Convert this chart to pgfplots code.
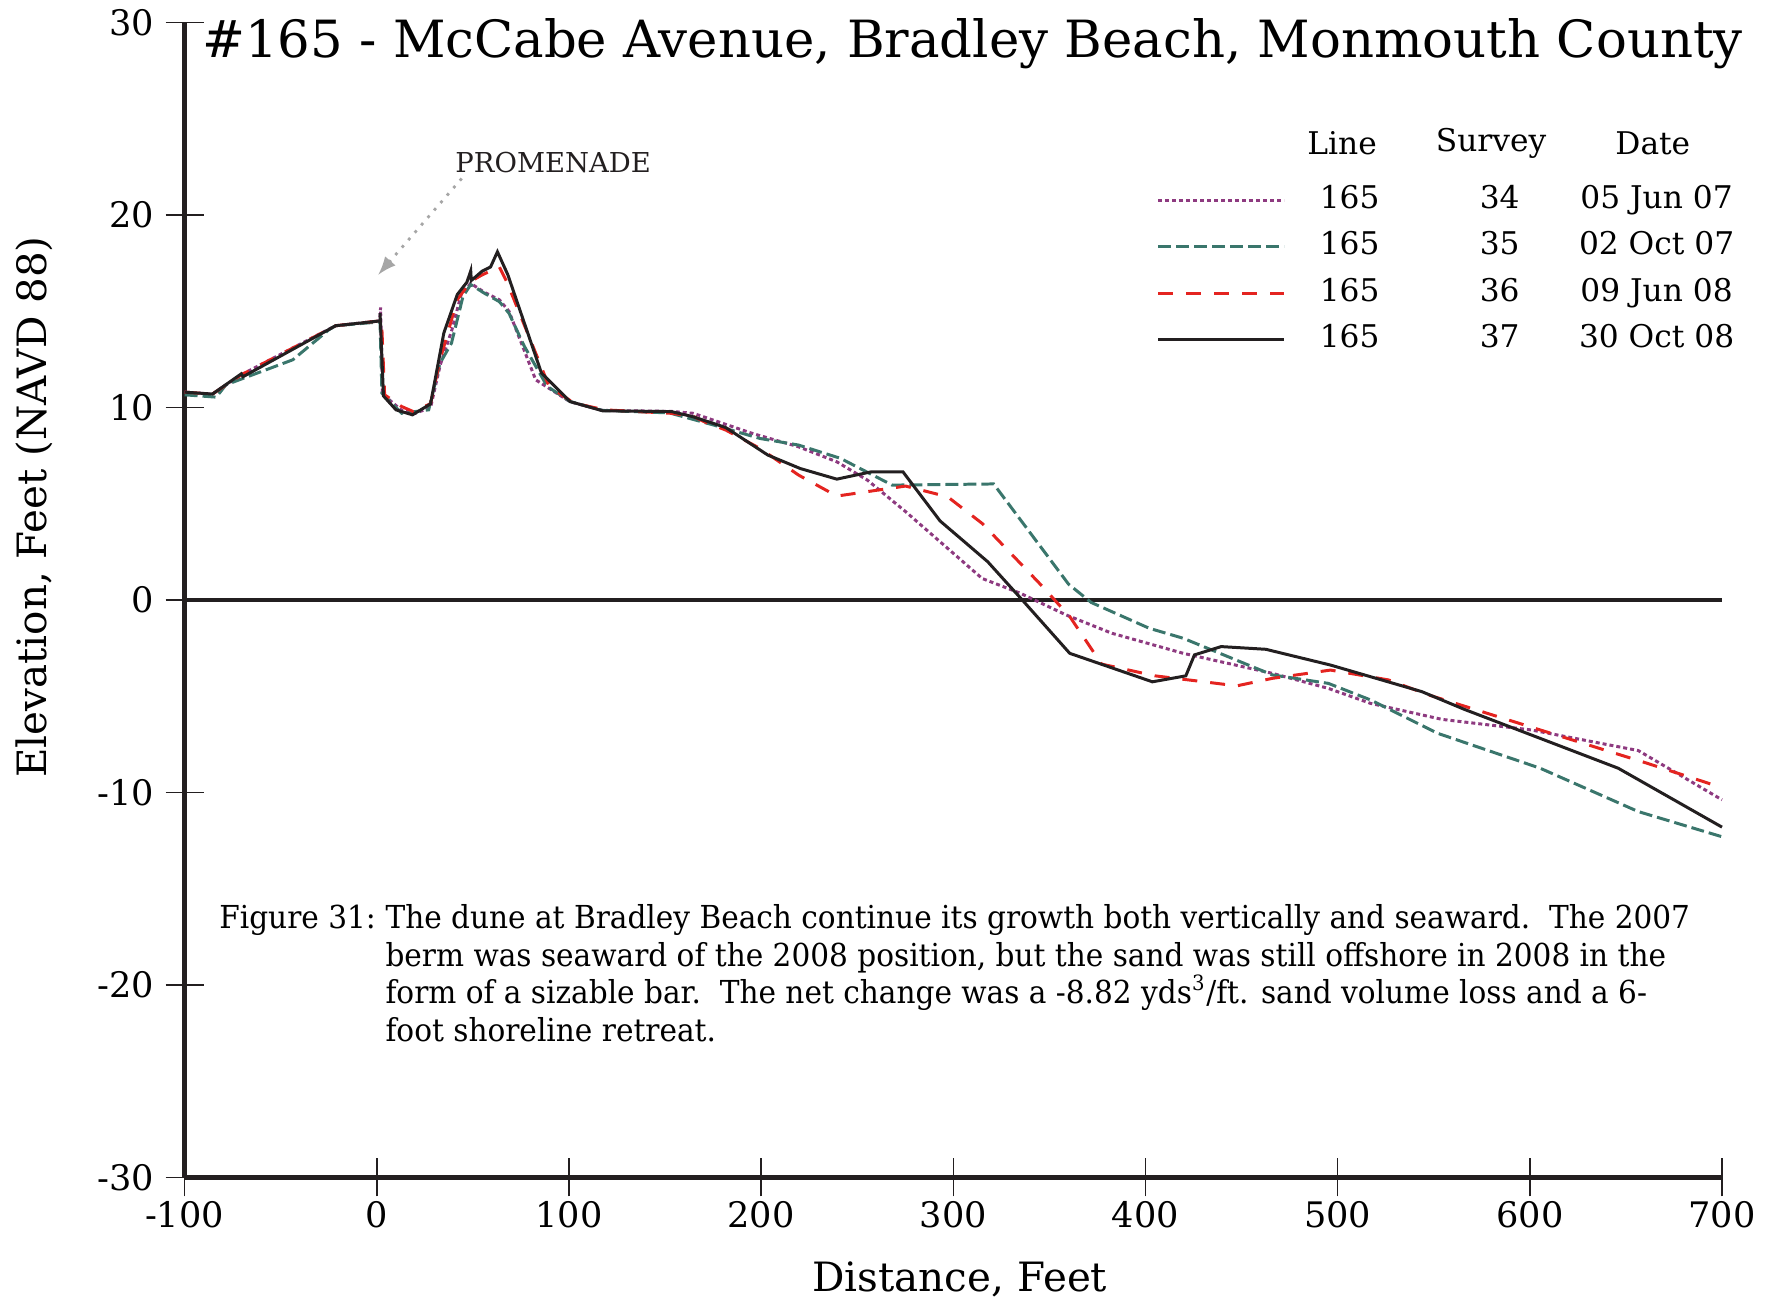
\documentclass[border=0pt]{standalone}
\usepackage{fontspec}
\setmainfont{DejaVu Serif}
\newfontfamily\capfont[FakeStretch=0.935]{DejaVu Serif}
\usepackage{pgfplots}
\pgfplotsset{compat=1.18}
\definecolor{c34}{RGB}{142,58,128}
\definecolor{c35}{RGB}{58,118,108}
\definecolor{c36}{RGB}{228,36,32}
\definecolor{c37}{RGB}{35,31,32}
\begin{document}
\begin{tikzpicture}
\path[use as bounding box] (-1.846cm,-1.23cm) rectangle (15.916cm,11.776cm);
\begin{axis}[
  at={(0,0)}, anchor=south west,
  width=15.376cm, height=11.55cm, scale only axis,
  xmin=-100, xmax=700, ymin=-30, ymax=30,
  axis x line*=bottom, axis y line*=left,
  axis line style={line width=1.4pt, c37},
  xtick={-100,0,100,200,300,400,500,600,700},
  xticklabels={-100,0,100,200,300,400,500,600,700},
  ytick={-30,-20,-10,0,10,20,30},
  yticklabels={-30,-20,-10,0,10,20,30},
  tick align=center, major tick length=3.8mm,
  tick style={c37, line width=0.45pt},
  xticklabel style={font=\fontsize{10}{12}\selectfont, yshift=0.75mm},
  yticklabel style={font=\fontsize{10}{12}\selectfont, xshift=0.1mm},
  clip=false,
  legend cell align=left,
  legend style={draw=none, fill=none, at={(axis cs:400,22.0)}, anchor=north west,
    font=\fontsize{8.9}{10}\selectfont, row sep=1.44mm,
    nodes={inner sep=0pt, text height=2.4mm, text depth=0.8mm}},
  legend image code/.code={\draw[#1] (0cm,0cm) -- (1.26cm,0cm);},
]
\addplot[c37, line width=1.1pt, forget plot] coordinates {(-100,0) (700,0)};

\addplot[c34, line width=0.85pt, dash pattern=on 0.4mm off 0.3mm] coordinates {
(-100,10.8) (-85.5,10.7) (-70.5,11.7) (-21.4,14.25) (1.5,14.5) (2.0,15.2) (3.0,10.7)
(13,9.85) (20,9.7) (28,10.0) (33,12.2) (39,14.0) (44,15.9) (48.9,16.45) (55.8,16.0)
(63.8,15.6) (68.8,15.0) (82.7,11.44) (100.6,10.3) (117.5,9.85) (153.3,9.8) (164.7,9.7)
(195.6,8.65) (219.5,7.96) (239.4,7.18) (255.3,6.23) (275.2,4.59) (315,1.12) (334.9,0.35)
(358.8,-0.78) (382.6,-1.73) (419.7,-2.77) (466,-3.81) (495.1,-4.59) (517.1,-5.37)
(554.2,-6.2) (600.7,-6.75) (656.4,-7.82) (700,-10.38)};
\addlegendentry{\makebox[1.28cm][c]{165}\makebox[1.72cm][c]{34}\makebox[1.42cm][c]{05 Jun 07}}

\addplot[c35, line width=0.85pt, dash pattern=on 1.3mm off 0.5mm] coordinates {
(-100,10.66) (-83.5,10.54) (-78.5,11.18) (-43.7,12.48) (-24.8,14.05) (-21.4,14.25)
(1.7,14.45) (2.7,10.75) (13,9.7) (27,9.88) (32.9,12.3) (38.9,13.35) (44.9,15.78)
(48.9,16.39) (55.8,15.95) (63.8,15.5) (68.8,14.9) (76.7,13.2) (88.7,11.1) (100.6,10.31)
(117.5,9.85) (152.3,9.72) (175.7,9.08) (199.5,8.39) (219.5,8.05) (241.3,7.36)
(268.2,5.97) (321,6.03) (360,0.82) (371.8,-0.13) (402,-1.47) (419.7,-1.99) (466,-3.89)
(495.1,-4.33) (517.1,-5.19) (551.9,-6.92) (605.4,-8.74) (656.4,-10.99) (700,-12.3)};
\addlegendentry{\makebox[1.28cm][c]{165}\makebox[1.72cm][c]{35}\makebox[1.42cm][c]{02 Oct 07}}

\addplot[c36, line width=0.85pt, dash pattern=on 1.5mm off 1.3mm] coordinates {
(-100,10.8) (-85.5,10.7) (-70.5,11.7) (-21.4,14.25) (1.5,14.5) (2.5,14.5) (4.1,10.66)
(13,10.05) (19,9.79) (28,10.2) (33,12.5) (41.9,15.6) (48.9,16.56) (55,16.9) (63.8,17.3)
(67.8,16.5) (89.7,11.1) (102.6,10.23) (118.5,9.88) (153.3,9.7) (164.7,9.55) (170.2,9.27)
(181.6,8.83) (199.5,7.87) (219.5,6.49) (239.4,5.4) (275.2,5.92) (297.1,5.36) (315,3.98)
(344.8,0.87) (360.6,-0.86) (377.2,-3.33) (405,-3.94) (426.4,-4.2) (447.5,-4.46)
(466,-4.07) (496.3,-3.64) (526.4,-4.15) (547.3,-4.93) (605.4,-6.75) (661,-8.48) (700,-9.75)};
\addlegendentry{\makebox[1.28cm][c]{165}\makebox[1.72cm][c]{36}\makebox[1.42cm][c]{09 Jun 08}}

\addplot[c37, line width=0.85pt] coordinates {
(-100,10.8) (-85.5,10.7) (-70.5,11.75) (-69.6,11.6) (-21.4,14.25) (1.7,14.5) (1.7,14.9)
(1.9,14.5) (3.5,10.6) (10,9.88) (18.6,9.62) (28,10.19) (34.9,13.87) (41.9,15.87)
(46.9,16.51) (48.9,17.1) (49.2,16.6) (54.8,17.08) (59.2,17.3) (62.8,18.09) (68.2,16.9)
(85.7,11.79) (100.6,10.31) (117.5,9.83) (153.3,9.79) (164.7,9.52) (181.6,8.96)
(203.5,7.53) (220.4,6.83) (239.4,6.28) (257.3,6.66) (273.8,6.66) (293.1,4.11)
(317.9,1.99) (335.9,0) (360.6,-2.77) (403.6,-4.25) (421,-3.94) (425.5,-2.85)
(439.4,-2.42) (462.6,-2.56) (496.3,-3.38) (543.8,-4.76) (565.9,-5.68) (646,-8.74) (700,-11.8)};
\addlegendentry{\makebox[1.28cm][c]{165}\makebox[1.72cm][c]{37}\makebox[1.42cm][c]{30 Oct 08}}

% axis labels
\node[font=\fontsize{11.5}{13}\selectfont, inner sep=0pt] at (axis cs:303.4,-35.3) {Distance, Feet};
\node[rotate=90, font=\fontsize{11.5}{13}\selectfont, inner sep=0pt] at (axis cs:-178.4,4.83) {Elevation, Feet (NAVD 88)};
% title
\node[anchor=base west, font=\fontsize{14.6}{16}\selectfont, inner sep=0pt] at (axis cs:-91.2,28.2)
  {\#165 - McCabe Avenue, Bradley Beach, Monmouth County};
% legend header
\node[font=\fontsize{8.9}{10}\selectfont, inner sep=0pt] at (axis cs:502.3,23.74) {Line};
\node[font=\fontsize{8.9}{10}\selectfont, inner sep=0pt] at (axis cs:579.8,23.74) {Survey};
\node[font=\fontsize{8.9}{10}\selectfont, inner sep=0pt] at (axis cs:664,23.74) {Date};
% promenade
\node[anchor=base west, font=\fontsize{7.8}{9}\selectfont, inner sep=0pt, c37] at (axis cs:40.6,22.2) {PROMENADE};
\draw[gray!70, line width=0.8pt, dotted, -{latex}] (axis cs:44.2,21.9) -- (axis cs:0.8,16.9);
% caption
\node[anchor=base west, font=\capfont\fontsize{9}{11}\selectfont, inner sep=0pt] at (axis cs:-82.3,-17.08) {Figure 31:};
\node[anchor=base west, font=\capfont\fontsize{9}{11}\selectfont, inner sep=0pt] at (axis cs:4.2,-17.08) {The dune at Bradley Beach continue its growth both vertically and seaward.\ \ The 2007};
\node[anchor=base west, font=\capfont\fontsize{9}{11}\selectfont, inner sep=0pt] at (axis cs:4.2,-19.03) {berm was seaward of the 2008 position, but the sand was still offshore in 2008 in the};
\node[anchor=base west, font=\capfont\fontsize{9}{11}\selectfont, inner sep=0pt] at (axis cs:4.2,-20.98) {form of a sizable bar.\ \ The net change was a -8.82 yds\textsuperscript{3}/ft. sand volume loss and a 6-};
\node[anchor=base west, font=\capfont\fontsize{9}{11}\selectfont, inner sep=0pt] at (axis cs:4.2,-22.92) {foot shoreline retreat.};
\end{axis}
\end{tikzpicture}
\end{document}
